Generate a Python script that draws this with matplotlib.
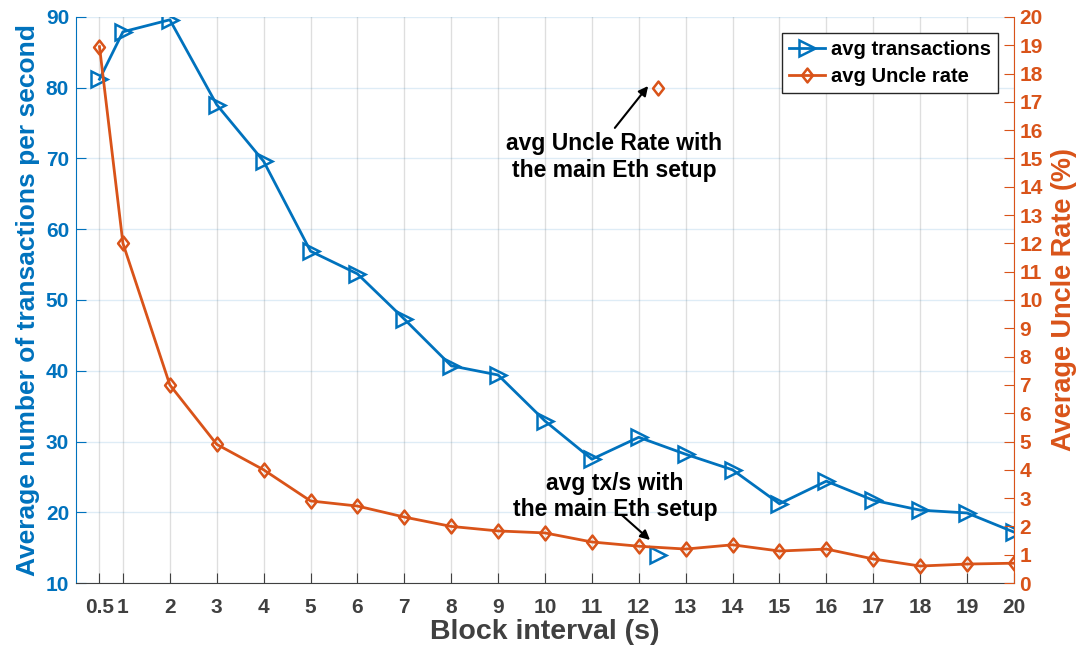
import matplotlib
matplotlib.use('Agg')
import matplotlib.pyplot as plt
from matplotlib.path import Path

plt.rcParams['font.family'] = ['Liberation Sans', 'DejaVu Sans']
plt.rcParams['font.weight'] = 'bold'

# block interval (s)
intervals = [0.5, 1, 2, 3, 4, 5, 6, 7, 8, 9, 10, 11, 12, 13, 14, 15, 16, 17, 18, 19, 20]
# average transactions per second
avg_tx = [81.2, 87.9, 89.6, 77.6, 69.6, 56.9, 53.7, 47.3, 40.7, 39.4, 32.9,
          27.5, 30.6, 28.2, 26.0, 21.2, 24.4, 21.7, 20.3, 19.9, 17.2]
# average uncle rate (%)
avg_uncle = [18.95, 12.0, 7.0, 4.9, 4.0, 2.9, 2.72, 2.33, 2.0, 1.84, 1.77,
             1.45, 1.3, 1.2, 1.35, 1.13, 1.2, 0.85, 0.6, 0.67, 0.7]

# reference values with the main Ethereum setup
main_interval = 12.4
main_tx = 14.0
main_uncle = 17.5

xtick_labels = ['0.5', '1', '2', '3', '4', '5', '6', '7', '8', '9', '10',
                '11', '12', '13', '14', '15', '16', '17', '18', '19', '20']

blue = '#0072BD'
orange = '#D95319'
grey = '#404040'

# slightly tall diamond, like MATLAB's 'd'
diamond = Path([(0, -1), (0.78, 0), (0, 1), (-0.78, 0), (0, -1)],
               [Path.MOVETO, Path.LINETO, Path.LINETO, Path.LINETO, Path.CLOSEPOLY])

fig = plt.figure(figsize=(10.88, 6.52), dpi=100)
ax = fig.add_axes([0.0699, 0.1058, 0.862, 0.8682])
ax2 = ax.twinx()

l1, = ax.plot(intervals, avg_tx, color=blue, lw=2, marker='>', ms=11,
              mfc='none', mew=1.8, label='avg transactions')
ax.plot([main_interval], [main_tx], color=blue, marker='>', ms=11,
        mfc='none', mew=1.8, ls='none')
l2, = ax2.plot(intervals, avg_uncle, color=orange, lw=2, marker=diamond, ms=10,
               mfc='none', mew=1.8, label='avg Uncle rate')
ax2.plot([main_interval], [main_uncle], color=orange, marker=diamond, ms=10,
         mfc='none', mew=1.8, ls='none')

ax.set_xlim(0, 20)
ax.set_ylim(10, 90)
ax2.set_ylim(0, 20)
ax.set_xticks(intervals)
ax.set_xticklabels(xtick_labels)
ax.set_yticks(range(10, 91, 10))
ax2.set_yticks(range(0, 21))

# grid: vertical in grey, horizontal in the left axis colour
ax.grid(True, axis='x', color='black', alpha=0.13, lw=1)
ax.grid(True, axis='y', color=blue, alpha=0.13, lw=1)
ax.set_axisbelow(True)

for a in (ax, ax2):
    a.spines['top'].set_visible(False)
ax.spines['right'].set_visible(False)
ax.spines['left'].set_color(blue)
ax.spines['bottom'].set_color(grey)
ax2.spines['left'].set_visible(False)
ax2.spines['bottom'].set_visible(False)
ax2.spines['right'].set_color(orange)

ax.tick_params(axis='x', direction='in', length=7, colors=grey, labelsize=15, pad=11)
ax.tick_params(axis='y', direction='in', length=7, colors=blue, labelsize=15, pad=5)
ax2.tick_params(axis='y', direction='in', length=7, colors=orange, labelsize=15, pad=4)
for lab in ax.get_xticklabels() + ax.get_yticklabels() + ax2.get_yticklabels():
    lab.set_fontweight('bold')

ax.set_xlabel('Block interval (s)', fontsize=20.5, fontweight='bold', color=grey, labelpad=1)
ax.set_ylabel('Average number of transactions per second', fontsize=19,
              fontweight='bold', color=blue, labelpad=4)
ax2.set_ylabel('Average Uncle Rate (%)', fontsize=19.5, fontweight='bold',
               color=orange, labelpad=6)

arrow = dict(arrowstyle='-|>', color='black', lw=1.5, mutation_scale=14,
             shrinkA=0, shrinkB=0)

ax2.text(11.47, 15.05, 'avg Uncle Rate with\nthe main Eth setup', ha='center', va='center',
         fontsize=16.5, fontweight='bold', color='black')
ax2.annotate('', xy=(12.2, 17.56), xytext=(11.49, 16.08), arrowprops=arrow)

ax.text(11.49, 22.2, 'avg tx/s with\nthe main Eth setup', ha='center', va='center',
        fontsize=16.5, fontweight='bold', color='black')
ax.annotate('', xy=(12.24, 16.08), xytext=(11.64, 19.6), arrowprops=arrow)

leg = ax2.legend(handles=[l1, l2], loc='upper right', bbox_to_anchor=(0.983, 0.972),
                 prop={'weight': 'bold', 'size': 14.5}, frameon=True, fancybox=False,
                 edgecolor='#262626', framealpha=1, handlelength=1.8, borderpad=0.35,
                 labelspacing=0.4, handletextpad=0.3, borderaxespad=0)
leg.get_frame().set_linewidth(1)

fig.savefig('out.png', dpi=100)
